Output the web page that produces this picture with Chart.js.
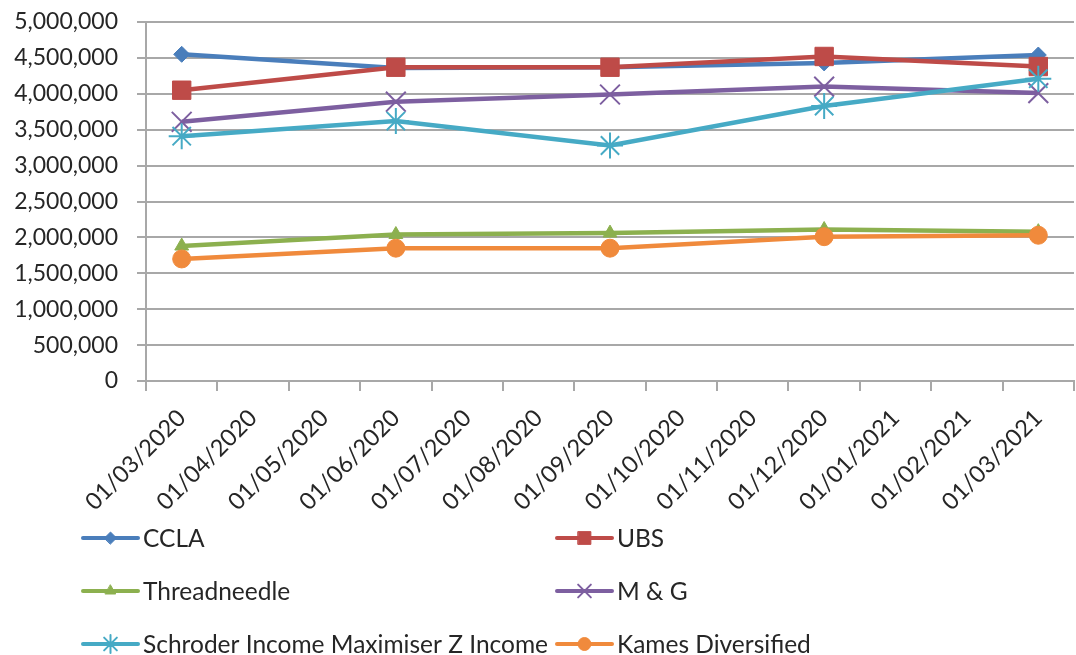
<!DOCTYPE html>
<html>
<head>
<meta charset="utf-8">
<script src="https://cdn.jsdelivr.net/npm/chart.js@4/dist/chart.umd.min.js"></script>
<style>
  html, body { margin: 0; padding: 0; background: #fff; overflow: hidden; }
  #wrap { width: 1090px; height: 655px; position: relative; }
</style>
</head>
<body>
<div id="wrap"><canvas id="fundChart"></canvas></div>
<script>
// monthly categories on the x axis
const months = ['01/03/2020', '01/04/2020', '01/05/2020', '01/06/2020', '01/07/2020', '01/08/2020',
    '01/09/2020', '01/10/2020', '01/11/2020', '01/12/2020', '01/01/2021', '01/02/2021', '01/03/2021'];

// quarterly valuations, null where there is no reading
const ccla = [4550000, null, null, 4360000, null, null, 4370000, null, null, 4430000, null, null, 4540000];
const ubs = [4050000, null, null, 4370000, null, null, 4370000, null, null, 4520000, null, null, 4380000];
const threadneedle = [1880000, null, null, 2040000, null, null, 2060000, null, null, 2110000, null, null, 2080000];
const mAndG = [3610000, null, null, 3890000, null, null, 3990000, null, null, 4100000, null, null, 4010000];
const schroder = [3410000, null, null, 3620000, null, null, 3280000, null, null, 3830000, null, null, 4210000];
const kames = [1700000, null, null, 1850000, null, null, 1850000, null, null, 2010000, null, null, 2030000];

const seriesNames = ['CCLA', 'UBS', 'Threadneedle', 'M & G', 'Schroder Income Maximiser Z Income', 'Kames Diversified'];
const seriesValues = [ccla, ubs, threadneedle, mAndG, schroder, kames];
const seriesColors = ['#4a7ebb', '#be4b48', '#8cb04f', '#7d5fa0', '#46aac5', '#f08a3c'];
const seriesMarkers = ['rectRot', 'rect', 'triangle', 'crossRot', 'star', 'circle'];
const markerRadius = [8, 13, 8, 14, 13, 9];
const legendRadius = [6, 9, 6, 9, 9, 6.5];

const textColor = '#262626';
const gridColor = '#a8a8a8';
const fontFamily = 'Lato, "Open Sans", sans-serif';

function build_datasets() {
    return seriesNames.map((name, i) => {
        const lineMarker = seriesMarkers[i] == 'crossRot' || seriesMarkers[i] == 'star';
        return {
            label: name,
            data: seriesValues[i],
            borderColor: seriesColors[i],
            backgroundColor: seriesColors[i],
            pointBackgroundColor: seriesColors[i],
            pointBorderColor: seriesColors[i],
            borderWidth: 4.5,
            pointStyle: seriesMarkers[i],
            pointRadius: markerRadius[i],
            pointHoverRadius: markerRadius[i],
            pointBorderWidth: lineMarker ? 2 : 1,
            tension: 0,
            spanGaps: true,
            order: seriesNames.length - i, // later series sit on top, like the spreadsheet
        };
    });
}

// legend laid out in two fixed columns under the axis
const gridLegend = {
    id: 'gridLegend',
    afterDraw(chart) {
        const ctx = chart.ctx;
        const cols = [83, 557];
        const rows = [538, 591, 644];
        chart.data.datasets.forEach((ds, i) => {
            const x = cols[i % 2];
            const y = rows[Math.floor(i / 2)];
            ctx.save();
            ctx.strokeStyle = ds.borderColor;
            ctx.lineWidth = 4;
            ctx.lineCap = 'round';
            ctx.beginPath();
            ctx.moveTo(x, y);
            ctx.lineTo(x + 55, y);
            ctx.stroke();
            ctx.fillStyle = ds.pointBackgroundColor;
            ctx.strokeStyle = ds.pointBorderColor;
            ctx.lineWidth = ds.pointBorderWidth;
            Chart.helpers.drawPoint(ctx, {
                pointStyle: ds.pointStyle,
                radius: legendRadius[i],
                borderWidth: ds.pointBorderWidth,
                rotation: 0
            }, x + 27.5, y);
            ctx.fillStyle = textColor;
            ctx.font = '24.5px ' + fontFamily;
            ctx.textBaseline = 'middle';
            ctx.textAlign = 'left';
            ctx.fillText(ds.label, x + 60, y + 1);
            ctx.restore();
        });
    }
};

const config = {
    type: 'line',
    data: { labels: months, datasets: build_datasets() },
    options: {
        responsive: true,
        maintainAspectRatio: false,
        animation: false,
        layout: { padding: { left: 12, right: 9, top: 22, bottom: 134 } },
        plugins: {
            legend: { display: false },
            tooltip: { enabled: false },
        },
        scales: {
            x: {
                type: 'category',
                offset: true,
                afterFit: (scale) => { scale.height = 140; },
                grid: {
                    offset: true,
                    drawOnChartArea: false,
                    drawTicks: true,
                    tickLength: 10,
                    color: gridColor,
                    lineWidth: 2,
                },
                border: { display: true, color: gridColor, width: 2 },
                ticks: {
                    autoSkip: false,
                    minRotation: 45,
                    maxRotation: 45,
                    padding: 13,
                    color: textColor,
                    font: { family: fontFamily, size: 23.5 },
                },
            },
            y: {
                min: 0,
                max: 5000000,
                afterFit: (scale) => {
                    // fixed axis width, and keep the label padding from pushing the plot down
                    scale.width = 134;
                    scale.paddingTop = 0;
                    scale.paddingBottom = 0;
                },
                grid: {
                    color: gridColor,
                    lineWidth: 2,
                    tickLength: 9,
                },
                border: { display: true, color: gridColor, width: 2 },
                ticks: {
                    stepSize: 500000,
                    padding: 19,
                    color: textColor,
                    font: { family: fontFamily, size: 23 },
                    callback: (value) => value.toLocaleString('en-US'),
                },
            },
        },
    },
    plugins: [gridLegend],
};

const fundChart = new Chart(document.getElementById('fundChart'), config);
</script>
</body>
</html>
